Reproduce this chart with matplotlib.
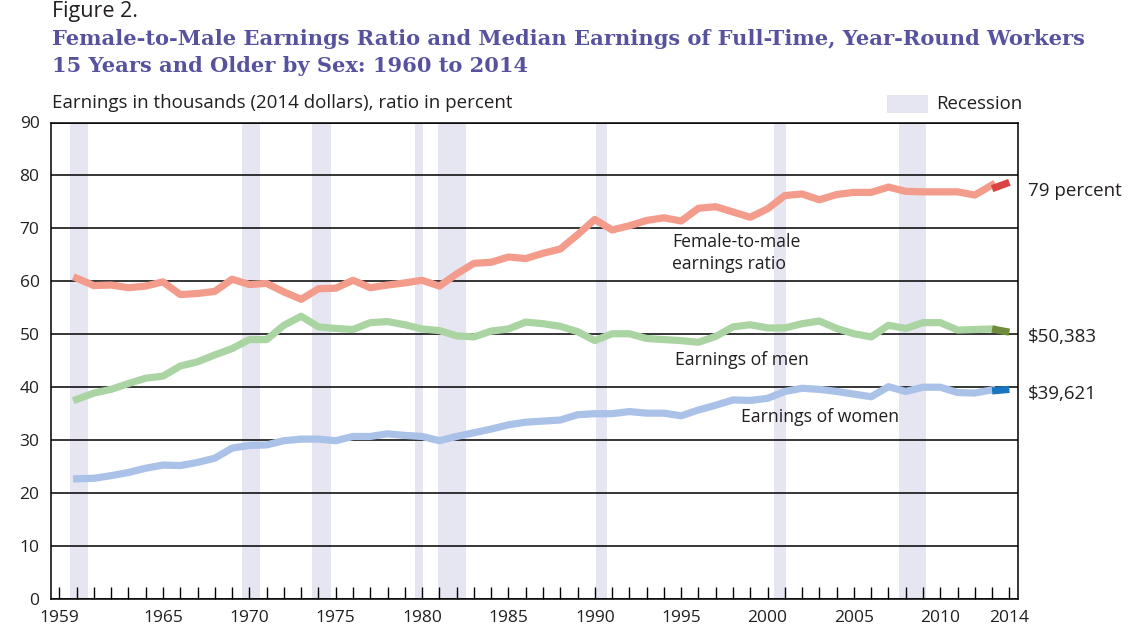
import matplotlib
matplotlib.use("Agg")
import matplotlib.pyplot as plt
from matplotlib.patches import Rectangle

# ---------------- data ----------------
years = list(range(1960, 2014))  # 1960..2013 (original series)

ratio = [60.6, 59.2, 59.3, 58.8, 59.1, 59.9, 57.5, 57.7, 58.1, 60.4,
         59.4, 59.6, 58.0, 56.6, 58.6, 58.7, 60.2, 58.8, 59.3, 59.7,
         60.2, 59.1, 61.4, 63.4, 63.6, 64.6, 64.3, 65.3, 66.1, 68.8,
         71.7, 69.7, 70.5, 71.5, 72.0, 71.4, 73.8, 74.1, 73.1, 72.1,
         73.7, 76.2, 76.5, 75.4, 76.4, 76.8, 76.8, 77.8, 77.0, 76.9,
         76.9, 76.9, 76.3, 78.2]

men = [37.7, 38.9, 39.6, 40.7, 41.7, 42.1, 44.0, 44.8, 46.1, 47.3,
       49.0, 49.0, 51.7, 53.4, 51.4, 51.1, 50.9, 52.2, 52.4, 51.8,
       51.0, 50.7, 49.7, 49.5, 50.6, 51.0, 52.3, 52.0, 51.5, 50.5,
       48.8, 50.1, 50.1, 49.2, 49.0, 48.8, 48.5, 49.6, 51.4, 51.8,
       51.2, 51.2, 52.0, 52.5, 51.1, 50.1, 49.5, 51.7, 51.1, 52.2,
       52.2, 50.8, 50.9, 51.0]

women = [22.7, 22.8, 23.3, 23.9, 24.7, 25.3, 25.2, 25.8, 26.6, 28.5,
         29.0, 29.1, 29.9, 30.2, 30.2, 29.9, 30.7, 30.7, 31.2, 30.9,
         30.7, 29.9, 30.7, 31.4, 32.1, 32.9, 33.4, 33.6, 33.8, 34.8,
         35.0, 35.0, 35.4, 35.1, 35.1, 34.6, 35.7, 36.6, 37.6, 37.5,
         37.9, 39.2, 39.8, 39.6, 39.2, 38.7, 38.2, 40.1, 39.2, 40.0,
         40.0, 39.0, 38.9, 39.5]

# redesigned-survey segment 2013-2014
years_new = [2013, 2014]
ratio_new = [77.5, 78.7]
men_new = [51.0, 50.4]
women_new = [39.3, 39.6]

# recessions (as drawn)
rec_start = [1959.6, 1969.55, 1973.6, 1979.6, 1980.95, 1990.05, 2000.35, 2007.6]
rec_end = [1960.65, 1970.6, 1974.75, 1980.05, 1982.55, 1990.7, 2001.05, 2009.15]

tick_years = list(range(1959, 2015))
label_years = [1959, 1965, 1970, 1975, 1980, 1985, 1990, 1995, 2000, 2005, 2010, 2014]
yticks = [0, 10, 20, 30, 40, 50, 60, 70, 80, 90]

# ---------------- style ----------------
SANS = ["Open Sans", "DejaVu Sans"]
TXT = "#231F20"
TITLE_C = "#57529E"
BAND_C = "#E6E5F2"

fig = plt.figure(figsize=(11.31, 6.44), dpi=100)
ax = fig.add_axes([50.7 / 1131, 45 / 644, (1018 - 50.7) / 1131, (599 - 122.5) / 644])
ax.set_xlim(1958.5, 2014.5)
ax.set_ylim(0, 90)

for s, e in zip(rec_start, rec_end):
    ax.axvspan(s, e, color=BAND_C, lw=0, zorder=0)

for y in yticks:
    ax.axhline(y, color="black", lw=1.1, zorder=1)

lw = 5.2
ax.plot(years, ratio, color="#F39C8C", lw=lw, zorder=3)
ax.plot(years_new, ratio_new, color="#DA4543", lw=lw, solid_capstyle="butt", zorder=4)
ax.plot(years, men, color="#AAD5A3", lw=lw, zorder=3)
ax.plot(years_new, men_new, color="#6E8C3A", lw=lw, solid_capstyle="butt", zorder=4)
ax.plot(years, women, color="#AAC2E8", lw=lw, zorder=3)
ax.plot(years_new, women_new, color="#1A76BE", lw=lw, solid_capstyle="butt", zorder=4)

for sp in ax.spines.values():
    sp.set_color("black")
    sp.set_linewidth(1.1)

ax.set_xticks(tick_years)
ax.set_xticklabels([str(y) if y in label_years else "" for y in tick_years])
ax.set_yticks(yticks)
ax.set_yticklabels([str(y) for y in yticks])
ax.tick_params(axis="x", direction="in", length=8.5, width=1.0, color="black",
               pad=8, labelsize=12.5, labelcolor=TXT)
ax.tick_params(axis="y", length=0, pad=8, labelsize=12.5, labelcolor=TXT)
for lab in ax.get_xticklabels() + ax.get_yticklabels():
    lab.set_family(SANS)

# in-plot labels
lab_kw = dict(family=SANS, fontsize=12.7, color=TXT)
ax.text(1994.47, 65.4, "Female-to-male\nearnings ratio", ha="left", va="center",
        linespacing=1.3, **lab_kw)
ax.text(1994.65, 45.1, "Earnings of men", ha="left", va="center", **lab_kw)
ax.text(1998.47, 34.4, "Earnings of women", ha="left", va="center", **lab_kw)
side_kw = dict(family=SANS, fontsize=13.5, color=TXT, ha="left", va="center", clip_on=False)
ax.text(2015.1, 77.1, "79 percent", **side_kw)
ax.text(2015.1, 49.5, "$50,383", **side_kw)
ax.text(2015.1, 38.8, "$39,621", **side_kw)

# recession legend
fig.patches.append(Rectangle((887 / 1131, 1 - 113 / 644), 41 / 1131, 18 / 644,
                             transform=fig.transFigure, color=BAND_C, lw=0))
fig.text(936 / 1131, 1 - 104 / 644, "Recession", ha="left", va="center",
         family=SANS, fontsize=13.4, color=TXT)

# titles
fig.text(52 / 1131, 1 - 17 / 644, "Figure 2.", ha="left", va="baseline",
         family=SANS, fontsize=15.5, color=TXT)
fig.text(52 / 1131, 1 - 45 / 644,
         "Female-to-Male Earnings Ratio and Median Earnings of Full-Time, Year-Round Workers",
         ha="left", va="baseline", family=["DejaVu Serif"], fontweight="bold",
         fontsize=15.1, color=TITLE_C)
fig.text(52 / 1131, 1 - 71.5 / 644,
         "15 Years and Older by Sex: 1960 to 2014",
         ha="left", va="baseline", family=["DejaVu Serif"], fontweight="bold",
         fontsize=15.1, color=TITLE_C)
fig.text(52 / 1131, 1 - 108 / 644,
         "Earnings in thousands (2014 dollars), ratio in percent",
         ha="left", va="baseline", family=SANS, fontsize=13.5, color=TXT)

fig.savefig("out.png", dpi=100)
